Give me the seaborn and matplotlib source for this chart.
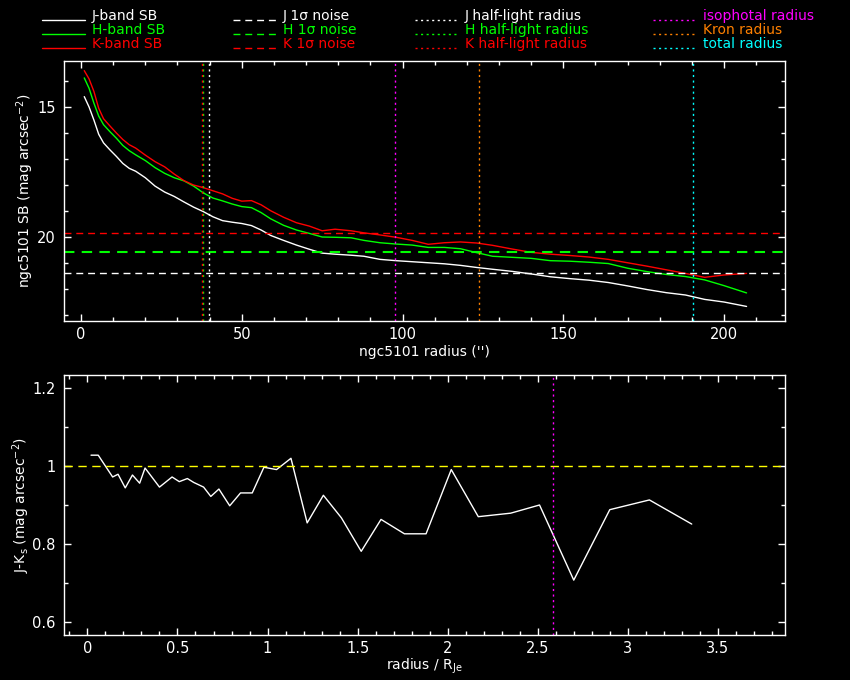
import numpy as np
import pandas as pd
import seaborn as sns
import matplotlib.pyplot as plt
from matplotlib.lines import Line2D
from matplotlib.ticker import MultipleLocator, FuncFormatter

# surface brightness profiles (radius in arcsec, mag arcsec^-2)
radius = [1.0, 2.5, 4.0, 5.5, 7.0, 9.0, 11.0, 13.0, 15.0, 17.0, 20.0, 23.0, 26.0,
          29.0, 32.0, 35.0, 38.0, 41.0, 44.0, 47.0, 50.0, 53.0, 56.0, 59.0, 63.0,
          67.0, 71.0, 75.0, 79.0, 84.0, 88.0, 93.0, 98.0, 103.0, 108.0, 113.0,
          118.0, 123.0, 128.0, 134.0, 140.0, 146.0, 152.0, 158.0, 164.0, 170.0,
          176.0, 182.0, 188.0, 194.0, 200.0, 207.0]
sb_j = [14.60, 15.00, 15.50, 16.05, 16.38, 16.65, 16.90, 17.17, 17.36, 17.47, 17.72,
        18.04, 18.27, 18.44, 18.65, 18.85, 19.02, 19.22, 19.37, 19.43, 19.48, 19.56,
        19.73, 19.94, 20.13, 20.31, 20.47, 20.62, 20.66, 20.70, 20.74, 20.86, 20.91,
        20.95, 20.99, 21.03, 21.09, 21.17, 21.24, 21.32, 21.42, 21.53, 21.60, 21.66,
        21.75, 21.88, 22.02, 22.14, 22.23, 22.40, 22.50, 22.67]
sb_h = [13.88, 14.28, 14.85, 15.35, 15.68, 15.95, 16.20, 16.48, 16.68, 16.84, 17.06,
        17.33, 17.55, 17.72, 17.84, 18.04, 18.30, 18.50, 18.61, 18.73, 18.83, 18.87,
        19.06, 19.30, 19.55, 19.73, 19.86, 20.00, 20.01, 20.03, 20.13, 20.22, 20.27,
        20.31, 20.40, 20.40, 20.45, 20.60, 20.74, 20.78, 20.82, 20.91, 20.93, 20.97,
        21.02, 21.20, 21.33, 21.44, 21.52, 21.65, 21.87, 22.15]
sb_k = [13.60, 13.92, 14.40, 15.05, 15.45, 15.73, 16.00, 16.25, 16.45, 16.58, 16.85,
        17.10, 17.30, 17.58, 17.83, 18.00, 18.10, 18.22, 18.34, 18.51, 18.62, 18.60,
        18.76, 18.99, 19.24, 19.45, 19.58, 19.76, 19.70, 19.76, 19.84, 19.92, 20.01,
        20.13, 20.28, 20.22, 20.19, 20.23, 20.32, 20.46, 20.59, 20.66, 20.71, 20.77,
        20.86, 20.99, 21.12, 21.26, 21.40, 21.55, 21.46, 21.40]

noise_j = 21.38
noise_h = 20.58
noise_k = 19.85

halflight_j = 39.8
halflight_h = 37.8
halflight_k = 37.6
iso_radius = 97.7
kron_radius = 123.8
total_radius = 190.2

# J-Ks colour profile vs radius / R_Je
color_x = [0.02, 0.06, 0.14, 0.17, 0.21, 0.25, 0.29, 0.32, 0.40, 0.47, 0.51, 0.555,
           0.59, 0.645, 0.685, 0.73, 0.79, 0.85, 0.915, 0.98, 1.05, 1.13, 1.22, 1.31,
           1.41, 1.52, 1.63, 1.76, 1.88, 2.02, 2.17, 2.35, 2.51, 2.70, 2.90, 3.12, 3.355]
color_jk = [1.028, 1.028, 0.972, 0.979, 0.944, 0.977, 0.956, 0.995, 0.946, 0.972, 0.960,
            0.968, 0.958, 0.946, 0.922, 0.941, 0.898, 0.931, 0.931, 0.997, 0.991, 1.020,
            0.854, 0.925, 0.867, 0.781, 0.863, 0.826, 0.826, 0.991, 0.870, 0.879, 0.900,
            0.707, 0.888, 0.913, 0.851]
color_ref = 1.0
iso_radius_norm = 2.583

legend_labels = ['J-band SB', 'H-band SB', 'K-band SB',
                 'J 1σ noise', 'H 1σ noise', 'K 1σ noise',
                 'J half-light radius', 'H half-light radius', 'K half-light radius',
                 'isophotal radius', 'Kron radius', 'total radius']
legend_colors = ['white', '#00ff00', '#ff0000',
                 'white', '#00ff00', '#ff0000',
                 'white', '#00ff00', '#ff0000',
                 '#ff00ff', '#ff8000', '#00ffff']

sns.set_style('ticks', rc={
    'figure.facecolor': 'black', 'axes.facecolor': 'black',
    'axes.edgecolor': 'white', 'axes.labelcolor': 'white',
    'text.color': 'white', 'xtick.color': 'white', 'ytick.color': 'white',
})
plt.rcParams['font.family'] = ['DejaVu Sans']
plt.rcParams['font.size'] = 10

fig = plt.figure(figsize=(8.5, 6.8), dpi=100)
W, H = 850.0, 680.0
ax1 = fig.add_axes([64 / W, 1 - 321 / H, 720.5 / W, 260 / H])
ax2 = fig.add_axes([64 / W, 1 - 635 / H, 720.5 / W, 260 / H])

sb = pd.DataFrame({'radius': radius, 'J': sb_j, 'H': sb_h, 'K': sb_k})
dots = (1.5, 2.5)
dash = (5, 3.5)

# top panel
for band, c in zip(['J', 'H', 'K'], legend_colors[:3]):
    sns.lineplot(data=sb, x='radius', y=band, ax=ax1, color=c, lw=1.0, estimator=None)
for lvl, c, w in zip([noise_j, noise_h, noise_k], legend_colors[3:6], [1.0, 1.5, 1.0]):
    ax1.axhline(lvl, color=c, lw=w, dashes=dash)
for rad, c in zip([halflight_j, halflight_h, halflight_k, iso_radius, kron_radius, total_radius],
                  legend_colors[6:]):
    ax1.axvline(rad, color=c, lw=1.0, dashes=dots)

ax1.set_xlim(-5.3, 218.8)
ax1.set_ylim(23.23, 13.23)
ax1.xaxis.set_major_locator(MultipleLocator(50))
ax1.xaxis.set_minor_locator(MultipleLocator(10))
ax1.yaxis.set_major_locator(MultipleLocator(5))
ax1.yaxis.set_minor_locator(MultipleLocator(1))
ax1.set_xlabel("ngc5101 radius ('')", va='top')
ax1.set_ylabel('ngc5101 SB (mag arcsec$^{-2}$)')
ax1.xaxis.set_label_coords(0.5, -0.092)
ax1.yaxis.set_label_coords(-0.039, 0.5)

# bottom panel
cdf = pd.DataFrame({'r_norm': color_x, 'jk': color_jk})
sns.lineplot(data=cdf, x='r_norm', y='jk', ax=ax2, color='white', lw=1.0,
             estimator=None, sort=False)
ax2.axhline(color_ref, color='#ffff00', lw=1.0, dashes=(6, 4))
ax2.axvline(iso_radius_norm, color='#ff00ff', lw=1.0, dashes=dots)
ax2.set_xlim(-0.13, 3.87)
ax2.set_ylim(0.566, 1.234)
ax2.xaxis.set_major_locator(MultipleLocator(0.5))
ax2.xaxis.set_minor_locator(MultipleLocator(0.1))
ax2.yaxis.set_major_locator(MultipleLocator(0.2))
ax2.yaxis.set_minor_locator(MultipleLocator(0.1))
ax2.xaxis.set_major_formatter(FuncFormatter(lambda v, p: '%g' % round(v, 2)))
ax2.yaxis.set_major_formatter(FuncFormatter(lambda v, p: '%g' % round(v, 2)))
ax2.set_xlabel('radius / R$_{\\rm Je}$', va='top')
ax2.set_ylabel('J-K$_{\\rm s}$ (mag arcsec$^{-2}$)')
ax2.xaxis.set_label_coords(0.5, -0.085)
ax2.yaxis.set_label_coords(-0.045, 0.5)

for ax in (ax1, ax2):
    ax.tick_params(which='both', direction='in', top=True, right=True, width=1.0,
                   labelsize=10.5)
    ax.tick_params(which='major', length=5, pad=4)
    ax.tick_params(which='minor', length=3)
    ax.tick_params(axis='y', which='major', pad=6)
    for s in ax.spines.values():
        s.set_linewidth(1.0)
        s.set_color('white')

# legend drawn across the top of the figure
col_x = [42, 233, 415, 653]
row_y = [20, 34, 48]
styles = [None] * 3 + [dash] * 3 + [dots] * 6
for i, (lab, c) in enumerate(zip(legend_labels, legend_colors)):
    col, row = divmod(i, 3)
    x0 = col_x[col]
    y = 1 - row_y[row] / H
    ln = Line2D([x0 / W, (x0 + 43) / W], [y, y], transform=fig.transFigure,
                color=c, lw=1.0)
    if styles[i] is not None:
        ln.set_dashes(styles[i])
    fig.add_artist(ln)
    fig.text((x0 + 50) / W, y, lab, color=c, fontsize=10, va='baseline', ha='left')

fig.savefig('out.png', dpi=100, facecolor='black')
